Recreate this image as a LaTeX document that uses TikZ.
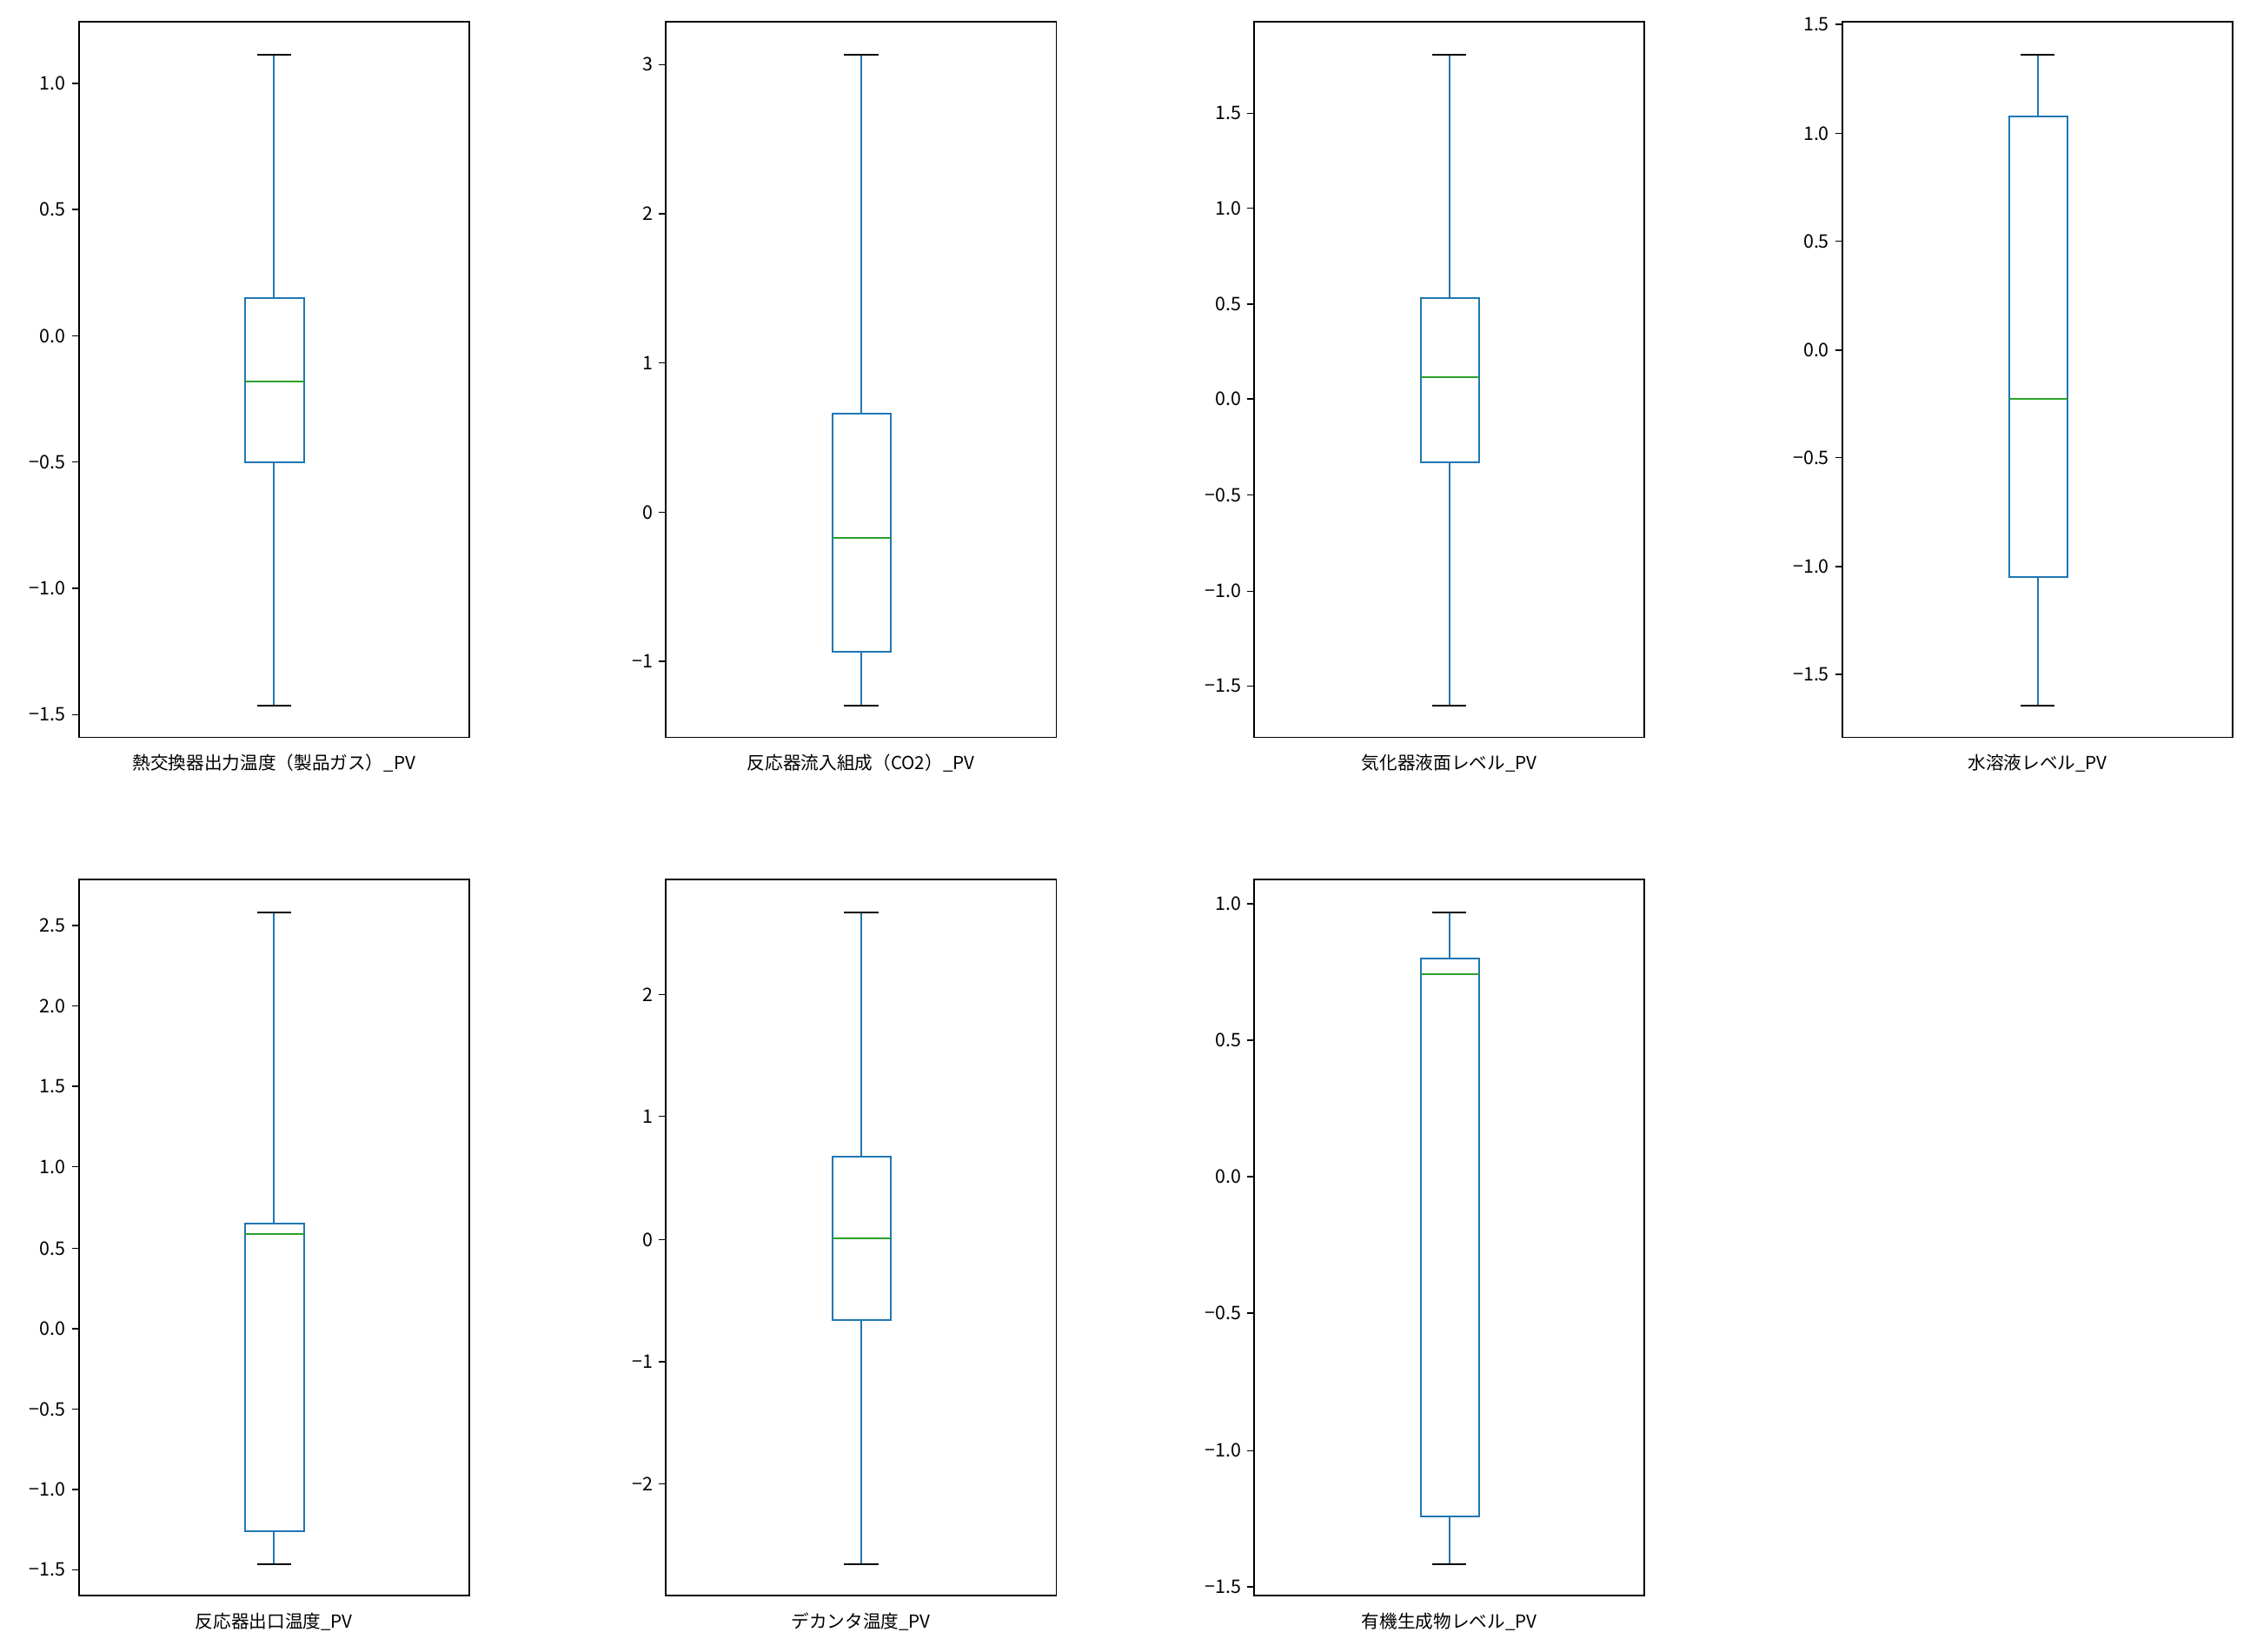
\documentclass[tikz,border=0pt]{standalone}
\usepackage{fontspec}
\setmainfont{Noto Sans CJK JP}
\definecolor{mblue}{HTML}{1F77B4}
\definecolor{mgreen}{HTML}{2CA02C}
\tikzset{ax/.style={draw=black,line width=0.9pt},
 wh/.style={draw=mblue,line width=1.2pt},
 cp/.style={draw=black,line width=1.2pt},
 md/.style={draw=mgreen,line width=1.2pt},
 tk/.style={font=\fontsize{13}{13}\selectfont,anchor=east,inner sep=0pt},
 lb/.style={font=\fontsize{12.5}{13}\selectfont,anchor=center,inner sep=0pt}}
% #1 left x, #2 top y, #3 center x, #4 wtop, #5 wbot, #6 boxtop, #7 boxbot, #8 median, #9 label
\newcommand\mypanel[9]{%
 \draw[ax] (#1,#2) rectangle (#1+272,#2+499);
 \draw[wh] (#3,#4) -- (#3,#6) (#3,#7) -- (#3,#5);
 \draw[cp] (#3-12,#4) -- (#3+12,#4) (#3-12,#5) -- (#3+12,#5);
 \draw[wh] (#3-20,#6) rectangle (#3+21,#7);
 \draw[md] (#3-20,#8) -- (#3+21,#8);
 \node[lb] at (#3,#2+517) {#9};}
\newcommand\myticks[2]{%
 \foreach \yy/\tt in {#2} {\draw[ax] (#1-5,\yy) -- (#1,\yy); \node[tk] at (#1-9,\yy) {\tt};}}
\begin{document}
\begin{tikzpicture}[x=1pt,y=-1pt]
\useasboundingbox (0,0) rectangle (1568,1151);
\mypanel{55}{15}{191}{38}{492}{208}{322}{266}{熱交換器出力温度（製品ガス）\_PV}
\myticks{55}{58/1.0,146/0.5,234/0.0,322/−0.5,410/−1.0,498/−1.5}
\mypanel{464}{15}{600}{38}{492}{288}{454}{375}{反応器流入組成（CO2）\_PV}
\myticks{464}{45/3,149/2,253/1,357/0,461/−1}
\mypanel{874}{15}{1010}{38}{492}{208}{322}{263}{気化器液面レベル\_PV}
\myticks{874}{79/1.5,145/1.0,212/0.5,278/0.0,345/−0.5,412/−1.0,478/−1.5}
\mypanel{1284}{15}{1420}{38}{492}{81}{402}{278}{水溶液レベル\_PV}
\myticks{1284}{17/1.5,93/1.0,168/0.5,244/0.0,319/−0.5,395/−1.0,470/−1.5}
\mypanel{55}{613}{191}{636}{1090}{853}{1067}{860}{反応器出口温度\_PV}
\myticks{55}{645/2.5,701/2.0,757/1.5,813/1.0,870/0.5,926/0.0,982/−0.5,1038/−1.0,1094/−1.5}
\mypanel{464}{613}{600}{636}{1090}{806}{920}{863}{デカンタ温度\_PV}
\myticks{464}{693/2,778/1,864/0,949/−1,1034/−2}
\mypanel{874}{613}{1010}{636}{1090}{668}{1057}{679}{有機生成物レベル\_PV}
\myticks{874}{630/1.0,725/0.5,820/0.0,915/−0.5,1011/−1.0,1106/−1.5}
\end{tikzpicture}
\end{document}
